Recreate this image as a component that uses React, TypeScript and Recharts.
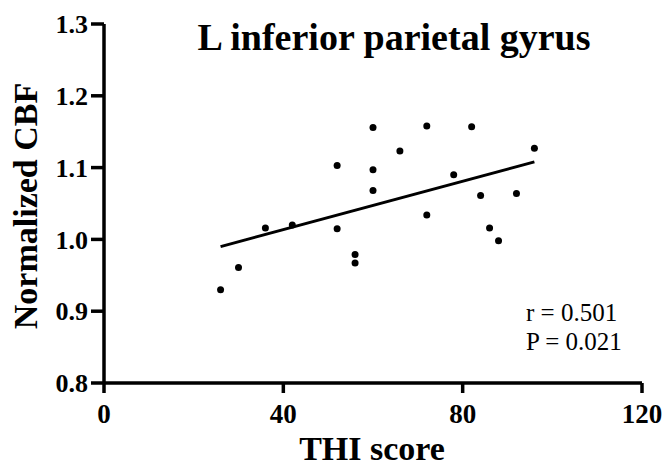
import { ScatterChart, Scatter, XAxis, YAxis, ReferenceLine } from 'recharts';

// THI score vs normalized CBF, one entry per subject
const thiScore = [26, 30, 36, 42, 52, 52, 56, 56, 60, 60, 60, 66, 72, 72, 78, 82, 84, 86, 88, 92, 96];
const normalizedCbf = [
  0.93, 0.961, 1.016, 1.02, 1.103, 1.015, 0.979, 0.967, 1.156, 1.097, 1.068,
  1.123, 1.158, 1.034, 1.09, 1.157, 1.061, 1.016, 0.998, 1.064, 1.127,
];

// fitted line end points
const fitX = [26, 96];
const fitY = [0.99, 1.108];

const xTicks = [0, 40, 80, 120];
const yTicks = [0.8, 0.9, 1.0, 1.1, 1.2, 1.3];

const points = thiScore.map((x, i) => ({ x, y: normalizedCbf[i] }));

const serif = '"Liberation Serif", "Times New Roman", serif';
const xTickStyle = { fill: '#000', fontSize: 27, fontWeight: 'bold', fontFamily: serif };
const yTickStyle = { fill: '#000', fontSize: 26, fontWeight: 'bold', fontFamily: serif };
const lineStyle = { stroke: '#000', strokeWidth: 3.5 };

const Dot = (props: any) => <circle cx={props.cx} cy={props.cy} r={3.5} fill="#000" />;

export default function App() {
  return (
    <div style={{ position: 'absolute', left: 0, top: 0, width: 665, height: 468, background: '#fff' }}>
      <ScatterChart width={665} height={468} margin={{ top: 24, right: 23, bottom: 0, left: 0 }}>
        <XAxis
          type="number"
          dataKey="x"
          domain={[0, 120]}
          ticks={xTicks}
          height={85}
          tickSize={10}
          tickMargin={11}
          axisLine={lineStyle}
          tickLine={lineStyle}
          tick={xTickStyle}
        />
        <YAxis
          type="number"
          dataKey="y"
          domain={[0.8, 1.3]}
          ticks={yTicks}
          width={104}
          tickSize={13}
          tickMargin={3}
          tickFormatter={(v: number) => v.toFixed(1)}
          axisLine={lineStyle}
          tickLine={lineStyle}
          tick={yTickStyle}
        />
        <ReferenceLine
          segment={[
            { x: fitX[0], y: fitY[0] },
            { x: fitX[1], y: fitY[1] },
          ]}
          stroke="#000"
          strokeWidth={3}
        />
        <Scatter data={points} fill="#000" shape={Dot} isAnimationActive={false} />
      </ScatterChart>
      <svg width={665} height={468} style={{ position: 'absolute', left: 0, top: 0, pointerEvents: 'none' }}>
        <text x={394} y={50} textAnchor="middle" fontFamily={serif} fontWeight="bold" fontSize={38} fill="#000">
          L inferior parietal gyrus
        </text>
        <text
          x={37}
          y={206}
          transform="rotate(-90, 37, 206)"
          textAnchor="middle"
          fontFamily={serif}
          fontWeight="bold"
          fontSize={34}
          fill="#000"
        >
          Normalized CBF
        </text>
        <text x={372} y={460} textAnchor="middle" fontFamily={serif} fontWeight="bold" fontSize={34} fill="#000">
          THI score
        </text>
        <text x={526} y={321} fontFamily={serif} fontSize={25} fill="#000">
          r = 0.501
        </text>
        <text x={526} y={350} fontFamily={serif} fontSize={25} fill="#000">
          P = 0.021
        </text>
      </svg>
    </div>
  );
}
